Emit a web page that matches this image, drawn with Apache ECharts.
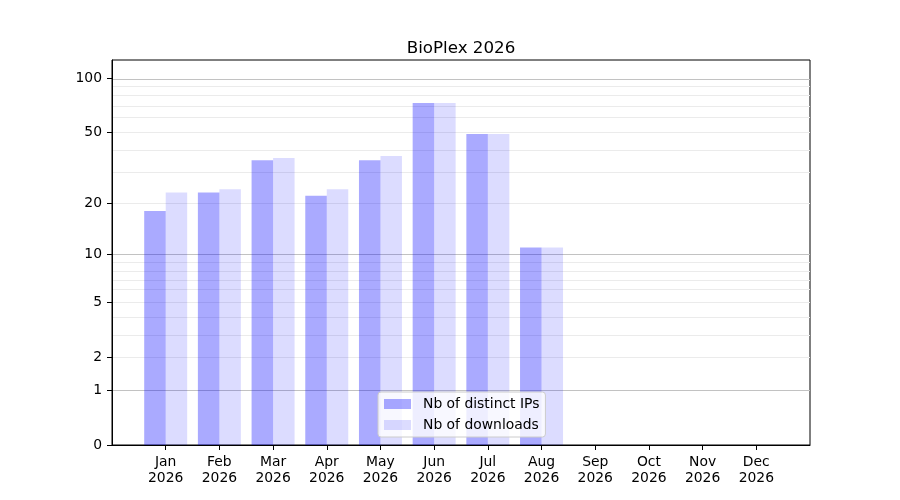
<!DOCTYPE html>
<html>
<head>
<meta charset="utf-8">
<script src="https://cdn.jsdelivr.net/npm/echarts@6/dist/echarts.min.js"></script>
<style>
html,body{margin:0;padding:0;background:#fff;}
#chart{width:900px;height:500px;}
</style>
</head>
<body>
<div id="chart"></div>
<script>
const months = ['Jan','Feb','Mar','Apr','May','Jun','Jul','Aug','Sep','Oct','Nov','Dec'];
const year = '2026';
const distinctIPs = [18, 23, 35, 22, 35, 73, 49, 11, 0, 0, 0, 0];
const downloads = [23, 24, 36, 24, 37, 73, 49, 11, 0, 0, 0, 0];
const yTickValues = [0, 1, 2, 5, 10, 20, 50, 100];
const majorGrid = [1, 10, 100];
const minorGrid = [2, 3, 4, 5, 6, 7, 8, 9, 20, 30, 40, 50, 60, 70, 80, 90];

// scale: log10(v + 1)
const tf = v => (v == null ? null : Math.log10(v + 1));

const categories = [''].concat(months.map(m => m + '\n' + year)).concat(['']);
const pad = arr => [null].concat(arr.map(tf)).concat([null]);

const FONT = 'DejaVu Sans';
const chart = echarts.init(document.getElementById('chart'), null, {renderer: 'canvas'});

const gridLines = majorGrid.map(v => ({yAxis: tf(v), lineStyle: {color: '#c2c2c2', width: 1, type: 'solid'}}))
  .concat(minorGrid.map(v => ({yAxis: tf(v), lineStyle: {color: '#ebebeb', width: 1, type: 'solid'}})));

chart.setOption({
  animation: false,
  backgroundColor: '#ffffff',
  title: {
    text: 'BioPlex 2026',
    left: 456,
    top: 35,
    textAlign: 'center',
    textStyle: {fontFamily: FONT, fontSize: 16.7, fontWeight: 'normal', color: '#000'}
  },
  grid: {
    left: 112, right: 90, top: 60, bottom: 55,
    show: true, borderColor: '#000', borderWidth: 1, backgroundColor: 'transparent'
  },
  legend: {
    orient: 'vertical',
    left: 378,
    top: 392,
    padding: [5, 6, 5, 6],
    itemWidth: 27,
    itemHeight: 10,
    itemGap: 7,
    icon: 'rect',
    backgroundColor: 'rgba(255,255,255,0.8)',
    borderColor: '#cccccc',
    borderWidth: 1,
    borderRadius: 3,
    textStyle: {fontFamily: FONT, fontSize: 13.9, color: '#000', padding: [0, 0, 0, 7]},
    data: ['Nb of distinct IPs', 'Nb of downloads']
  },
  xAxis: {
    type: 'category',
    data: categories,
    boundaryGap: false,
    axisLine: {lineStyle: {color: '#000', width: 1}},
    axisTick: {
      show: true, length: 5, lineStyle: {color: '#000'},
      interval: (idx, val) => val !== ''
    },
    axisLabel: {
      interval: 0, margin: 9, color: '#000', fontFamily: FONT, fontSize: 13.9, lineHeight: 16
    },
    splitLine: {show: false}
  },
  yAxis: {
    type: 'value',
    min: 0,
    max: 2.104,
    axisLine: {show: true, lineStyle: {color: '#000', width: 1}},
    axisTick: {show: true, length: 5, lineStyle: {color: '#000'}, customValues: yTickValues.map(tf)},
    axisLabel: {
      color: '#000', fontFamily: FONT, fontSize: 13.9, margin: 10,
      customValues: yTickValues.map(tf),
      formatter: v => String(Math.round(Math.pow(10, v) - 1))
    },
    splitLine: {show: false}
  },
  series: [
    {
      type: 'line',
      name: 'grid',
      data: [],
      z: 0,
      silent: true,
      markLine: {
        silent: true,
        z: 0,
        symbol: ['none', 'none'],
        label: {show: false},
        emphasis: {disabled: true},
        lineStyle: {type: 'solid'},
        data: gridLines
      }
    },
    {
      name: 'Nb of distinct IPs',
      type: 'bar',
      data: pad(distinctIPs),
      barWidth: 21.5,
      barGap: '0%',
      itemStyle: {color: 'rgba(0,0,255,0.333)'},
      z: 2
    },
    {
      name: 'Nb of downloads',
      type: 'bar',
      data: pad(downloads),
      barWidth: 21.5,
      barGap: '0%',
      itemStyle: {color: 'rgba(0,0,255,0.137)'},
      z: 2
    }
  ]
});
</script>
</body>
</html>
